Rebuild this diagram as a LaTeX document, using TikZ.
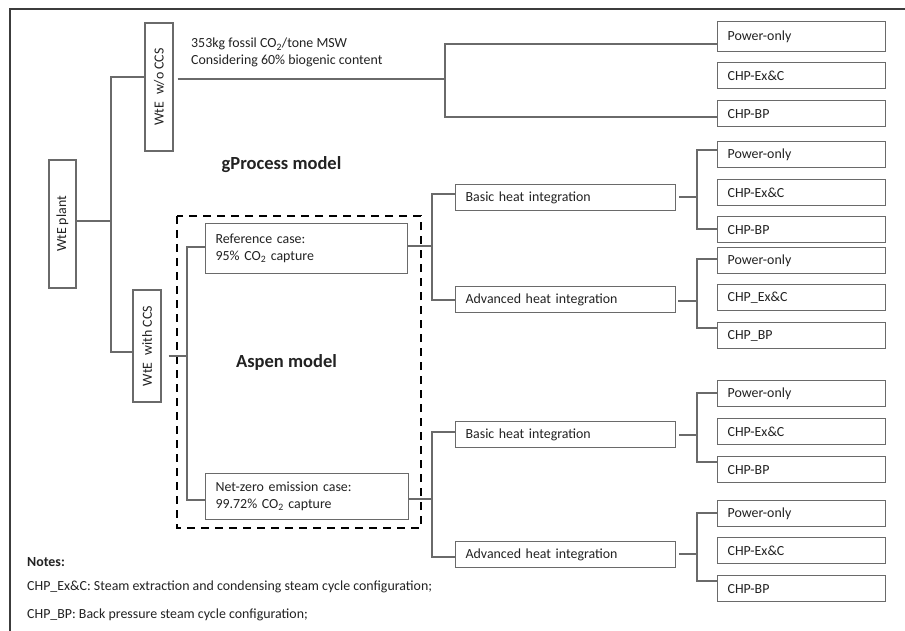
\documentclass[tikz,border=0pt]{standalone}
\usepackage{fontspec}
\setmainfont{Carlito}
\definecolor{ln}{HTML}{6A6A6A}
\definecolor{txt}{HTML}{222222}
\definecolor{frm}{HTML}{3C3C3C}
\newcommand\boxfont{\fontsize{13.9}{16.8}\selectfont}
\newcommand\bigfont{\fontsize{18.5}{21}\selectfont\bfseries}
\begin{document}
\begin{tikzpicture}[x=1pt,y=-1pt,
  conn/.style={draw=ln, line width=1.2pt},
  box/.style={draw=ln, line width=1.2pt, anchor=north west, inner xsep=10pt, inner ysep=0pt,
              align=left, font=\boxfont, text=txt},
  rbox/.style={box, text width=148pt, minimum height=#1},
  rbox/.default=26pt,
  mbox/.style={box, text width=200pt, minimum height=26pt},
  cbox/.style={box, text width=#1, minimum height=48pt},
  vbox/.style 2 args={draw=ln, line width=1.2pt, rotate=90, inner sep=0pt, font=\boxfont, text=txt,
              minimum width=#1, minimum height=#2},
  lbl/.style={font=\bigfont, text=txt},
  note/.style={anchor=west, font=\boxfont, text=txt, inner sep=0pt}]
\useasboundingbox (0,0) rectangle (905,631);
\fill[white] (0,0) rectangle (905,631);
\draw[frm, line width=1.5pt] (905,9) -- (10,9) -- (10,631);

% left tree
\node[vbox={128pt}{27pt}] (plant) at (62.5,224) {WtE plant};
\node[vbox={128pt}{28pt}] (wo) at (159,87) {WtE\hspace{0.5em}w/o CCS};
\node[vbox={112pt}{28pt}] (with) at (147,346) {WtE\hspace{0.5em}with CCS};

% top branch
\node[note, anchor=north west, align=left, font=\boxfont] (txt1) at (191,38)
  {353kg fossil CO\textsubscript{2}/tone MSW\\Considering 60\% biogenic content};
\node[rbox=30pt] (po1) at (717,21) {Power-only};
\node[rbox] (ex1) at (717,62) {CHP-Ex\&C};
\node[rbox] (bp1) at (717,100) {CHP-BP};

% labels
\node[lbl] (gp) at (281.5,165) {gProcess model};
\node[lbl] (asp) at (286.5,362) {Aspen model};

% dashed region
\draw[black, line width=2.4pt, dash pattern=on 8pt off 6pt] (177,216) rectangle (421,528);

% cases
\node[cbox=182pt, minimum height=50pt] (ref) at (205,223) {Reference case:\\95\% CO\textsubscript{2} capture};
\node[cbox=183pt, minimum height=46pt] (nz) at (205,473) {Net-zero emission case:\\99.72\% CO\textsubscript{2} capture};

% heat integration
\node[mbox] (basic1) at (455,184) {Basic heat integration};
\node[mbox] (adv1) at (455,286) {Advanced heat integration};
\node[mbox] (basic2) at (455,421) {Basic heat integration};
\node[mbox] (adv2) at (455,541) {Advanced heat integration};

% right column
\node[rbox] (po2) at (717,141) {Power-only};
\node[rbox] (ex2) at (717,179) {CHP-Ex\&C};
\node[rbox] (bp2) at (717,216) {CHP-BP};
\node[rbox] (po3) at (717,247) {Power-only};
\node[rbox] (ex3) at (717,284) {CHP\_Ex\&C};
\node[rbox] (bp3) at (717,322) {CHP\_BP};
\node[rbox] (po4) at (717,380) {Power-only};
\node[rbox] (ex4) at (717,418) {CHP-Ex\&C};
\node[rbox] (bp4) at (717,456) {CHP-BP};
\node[rbox] (po5) at (717,500) {Power-only};
\node[rbox] (ex5) at (717,537) {CHP-Ex\&C};
\node[rbox] (bp5) at (717,575) {CHP-BP};

% connectors
\draw[conn] (plant.south |- 0,221) -- (111,221);
\draw[conn] (wo.north |- 0,77) -- (111,77) -- (111,352) -- (with.north |- 0,352);
\draw[conn, shorten <=4pt] (wo.south |- 0,79) -- (445,79);
\draw[conn] (po1.west |- 0,44) -| (445,117) -- (bp1.west |- 0,117);
\draw[conn, shorten <=7pt] (with.south |- 0,356) -- (187,356);
\draw[conn] (ref.west |- 0,247) -| (187,500) -- (nz.west |- 0,500);
\draw[conn] (ref.east |- 0,246) -- (432,246);
\draw[conn] (basic1.west |- 0,194) -| (432,300) -- (adv1.west |- 0,300);
\draw[conn, shorten <=3pt] (basic1.east |- 0,197) -- (697,197);
\draw[conn] (po2.west |- 0,150) -| (697,229) -- (bp2.west |- 0,229);
\draw[conn, shorten <=2pt] (adv1.east |- 0,301) -- (697,301);
\draw[conn] (po3.west |- 0,259) -| (697,328) -- (bp3.west |- 0,328);
\draw[conn] (nz.east |- 0,499) -- (432,499);
\draw[conn] (basic2.west |- 0,432) -| (432,557) -- (adv2.west |- 0,557);
\draw[conn, shorten <=3pt] (basic2.east |- 0,435) -- (697,435);
\draw[conn] (po4.west |- 0,393) -| (697,462) -- (bp4.west |- 0,462);
\draw[conn, shorten <=3pt] (adv2.east |- 0,554) -- (697,554);
\draw[conn] (po5.west |- 0,513) -| (697,581) -- (bp5.west |- 0,581);

% notes
\node[note, font=\boxfont\bfseries] (n0) at (27,562) {Notes:};
\node[note] (n1) at (27,587) {CHP\_Ex\&C: Steam extraction and condensing steam cycle configuration;};
\node[note] (n2) at (27,615) {CHP\_BP: Back pressure steam cycle configuration;};
\end{tikzpicture}
\end{document}
